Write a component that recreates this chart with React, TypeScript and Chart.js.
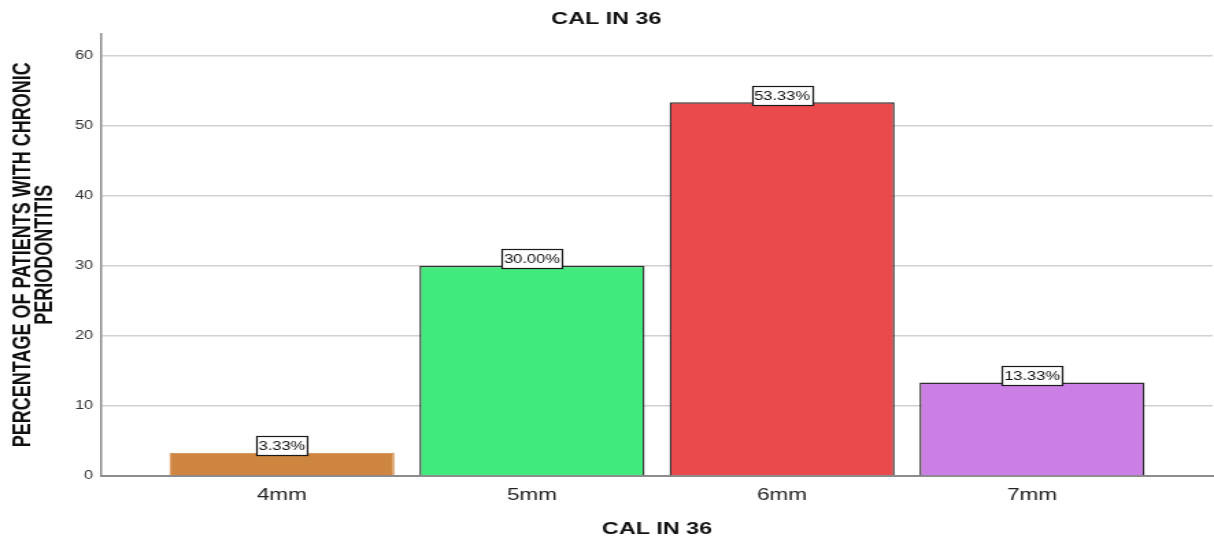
import React, { useEffect, useRef } from "react";
import { Chart, registerables } from "chart.js";

Chart.register(...registerables);

const chartTitle = "CAL IN 36";
const xAxisTitle = "CAL IN 36";
const yAxisTitle = ["PERCENTAGE OF PATIENTS WITH CHRONIC", "PERIODONTITIS"];
const categories = ["4mm", "5mm", "6mm", "7mm"];
const percentages = [3.33, 30.0, 53.33, 13.33];
const barColors = ["#CD853F", "#42EA7D", "#EA4A4C", "#CB7FE5"];
const barBorders = ["#D89A62", "#2E2E2E", "#2E2E2E", "#2E2E2E"];

const FONT = "'Liberation Sans', Arial, Helvetica, sans-serif";
const VIEW_W = 1214;
const VIEW_H = 540;
const DRAW_W = 886; // drawn narrower, then stretched horizontally like the reference

const boxLabels = {
  id: "boxLabels",
  afterDatasetsDraw(chart: any) {
    const ctx = chart.ctx;
    const meta = chart.getDatasetMeta(0);
    ctx.save();
    ctx.font = `12px ${FONT}`;
    ctx.textAlign = "center";
    ctx.textBaseline = "middle";
    meta.data.forEach((bar: any, i: number) => {
      const text = percentages[i].toFixed(2) + "%";
      const w = Math.round(ctx.measureText(text).width + 3);
      const h = 19;
      const cx = bar.x;
      const cy = bar.y - 7;
      const left = Math.round(cx - w / 2);
      const top = Math.round(cy - h / 2);
      ctx.fillStyle = "#ffffff";
      ctx.fillRect(left, top, w, h);
      ctx.strokeStyle = "#1a1a1a";
      ctx.lineWidth = 1.2;
      ctx.strokeRect(left + 0.5, top + 0.5, w, h);
      ctx.fillStyle = "#111111";
      ctx.fillText(text, cx, top + h / 2 + 1);
    });
    ctx.restore();
  },
};

export default function App() {
  const ref = useRef<HTMLCanvasElement | null>(null);

  useEffect(() => {
    if (!ref.current) return;
    const chart = new Chart(ref.current, {
      type: "bar",
      data: {
        datasets: [
          {
            data: categories.map((_, i) => ({ x: i, y: percentages[i] })),
            backgroundColor: barColors,
            borderColor: barBorders,
            borderWidth: 1.4,
            barPercentage: 0.9,
            categoryPercentage: 1,
          },
        ],
      },
      options: {
        responsive: false,
        animation: false,
        devicePixelRatio: 1,
        layout: { padding: { left: 0, right: 1, top: 0, bottom: 0 } },
        plugins: {
          legend: { display: false },
          tooltip: { enabled: false },
          title: {
            display: true,
            text: chartTitle,
            color: "#111111",
            font: { family: FONT, size: 17, weight: "bold" },
            padding: { top: 9, bottom: 4 },
          },
        },
        scales: {
          x: {
            type: "linear",
            min: -0.722,
            max: 3.722,
            offset: false,
            grid: { display: false, drawTicks: false },
            border: { display: true, color: "#8c8c8c", width: 2 },
            afterBuildTicks: (scale: any) => {
              scale.ticks = categories.map((_, i) => ({ value: i }));
            },
            afterFit: (scale: any) => {
              scale.height = 64;
            },
            ticks: {
              padding: 10,
              color: "#222222",
              font: { family: FONT, size: 16.5 },
              callback: (v: any) => categories[v] ?? "",
            },
            title: {
              display: true,
              text: xAxisTitle,
              color: "#111111",
              font: { family: FONT, size: 17, weight: "bold" },
              padding: { top: 4, bottom: 0 },
            },
          },
          y: {
            min: 0,
            max: 63.15,
            grid: { color: "#d0d0d0", lineWidth: 1.5, drawTicks: false },
            border: { display: true, color: "#8c8c8c", width: 1.5 },
            afterFit: (scale: any) => {
              scale.width = 74;
            },
            ticks: {
              stepSize: 10,
              includeBounds: false,
              padding: 6,
              color: "#333333",
              font: { family: FONT, size: 12 },
            },
            title: {
              display: true,
              text: yAxisTitle,
              color: "#111111",
              font: { family: FONT, size: 18, weight: "bold", lineHeight: 0.9 },
              padding: { top: 8.5, bottom: 0 },
            },
          },
        },
      },
      plugins: [boxLabels],
    });
    return () => chart.destroy();
  }, []);

  return (
    <div
      style={{
        position: "fixed",
        left: 0,
        top: 0,
        width: VIEW_W + "px",
        height: VIEW_H + "px",
        background: "#ffffff",
      }}
    >
      <canvas
        ref={ref}
        width={DRAW_W}
        height={VIEW_H}
        style={{ width: VIEW_W + "px", height: VIEW_H + "px", display: "block" }}
      />
    </div>
  );
}
